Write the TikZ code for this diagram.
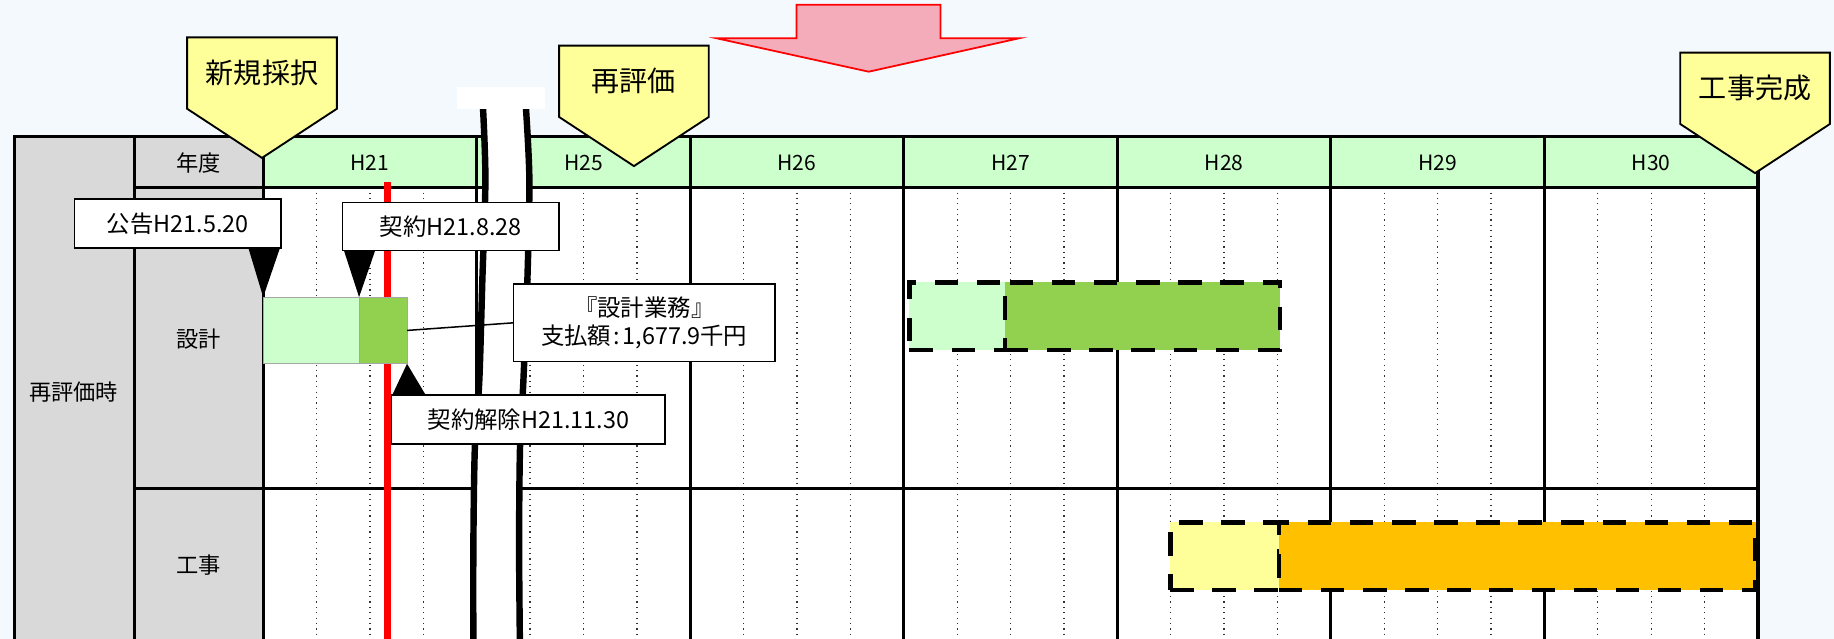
\documentclass[tikz,border=0pt]{standalone}
\usepackage{fontspec}
\setmainfont{Noto Sans CJK JP}
\definecolor{bgc}{RGB}{244,249,254}
\definecolor{grayc}{RGB}{217,217,217}
\definecolor{hdr}{RGB}{204,255,204}
\definecolor{dkgreen}{RGB}{146,208,80}
\definecolor{ylw}{RGB}{255,255,153}
\definecolor{orng}{RGB}{255,192,0}
\definecolor{pinkf}{RGB}{245,172,186}
\tikzset{
  gridline/.style={line width=2.6pt, black},
  dotline/.style={line width=1.1pt, black!80, dash pattern=on 1pt off 3.6pt},
  lbl/.style={font=\fontsize{19}{23}\selectfont, inner sep=0pt},
  hlbl/.style={font=\fontsize{18}{22}\selectfont, inner sep=0pt},
  dashbar/.style={draw=black, line width=4pt, dash pattern=on 20pt off 16pt, anchor=north west, inner sep=0pt, outer sep=0pt},
  gbar/.style={draw=gray!70, line width=0.8pt, anchor=north west, inner sep=0pt, outer sep=0pt},
  cbox/.style={draw=black, fill=white, line width=1.3pt, inner sep=0pt, outer sep=0pt, font=\fontsize{20}{24}\selectfont},
  ycall/.style={draw=black, fill=ylw, line width=1.6pt},
  ycalltext/.style={font=\fontsize{24}{28}\selectfont, inner sep=0pt},
  breakline/.style={line width=5.5pt, black},
  redline/.style={line width=6pt, red},
}
\newcommand\yellowcallout[4]{%
  \draw[ycall] (#2-64,#3) -- (#2+64,#3) -- (#2+64,#3+61) -- (#2,#3+103) -- (#2-64,#3+61) -- cycle;
  \node[ycalltext] (#1) at (#2,#3+30.5) {#4};
}
\begin{document}
\begin{tikzpicture}[x=1pt,y=-1pt]
\useasboundingbox (0,0) rectangle (1568,546);
\clip (0,0) rectangle (1568,546);
\fill[bgc] (0,0) rectangle (1568,546);

% table fills
\fill[grayc] (12,117) rectangle (225,560);
\fill[hdr] (225,117) rectangle (1503,160);
\fill[white] (225,160) rectangle (1503,560);

% dotted quarter lines
\foreach \i in {0,...,6}
  \foreach \k in {1,2,3}
    \draw[dotline] ({225+182.57*\i+45.64*\k},160) -- ++(0,400);

% grid
\draw[gridline] (12,117) rectangle (1503,560);
\draw[gridline] (114.6,117) -- (114.6,560);
\foreach \i in {0,...,6}
  \draw[gridline] ({225+182.57*\i},117) -- ++(0,443);
\draw[gridline] (114.6,160) -- (1503,160);
\draw[gridline] (114.6,418) -- (1503,418);

% labels
\node[lbl] (nendo) at (170,139) {年度};
\node[lbl] (sekkei) at (170,290) {設計};
\node[lbl] (koji) at (170,483) {工事};
\node[lbl] (saihyokaji) at (63,335) {再評価時};
\node[hlbl] (h21) at (316.3,139) {H21};
\node[hlbl] (h25) at (498.9,139) {H25};
\node[hlbl] (h26) at (681.4,139) {H26};
\node[hlbl] (h27) at (864,139) {H27};
\node[hlbl] (h28) at (1046.6,139) {H28};
\node[hlbl] (h29) at (1229.1,139) {H29};
\node[hlbl] (h30) at (1411.7,139) {H30};

% planned bars (dashed)
\node[dashbar, fill=hdr, minimum width=81.8, minimum height=57.9] (pl1) at (777.5,241.4) {};
\node[dashbar, fill=dkgreen, minimum width=235.1, minimum height=57.9] (pl2) at (859.3,241.4) {};
\node[dashbar, fill=ylw, minimum width=92.9, minimum height=57.8] (pk1) at (1000.5,446.6) {};
\node[dashbar, fill=orng, minimum width=407.5, minimum height=57.8] (pk2) at (1093.4,446.6) {};

% red line
\draw[redline] (331.5,156) -- (331.5,560);

% break
\fill[white] plot[smooth] coordinates {(413,93) (415,154) (412.4,239) (409.8,325) (406,382) (404.7,467) (404.7,560)}
  -- plot[smooth] coordinates {(444.6,560) (443.8,467) (444.6,382) (447.5,325) (450.9,239) (452.6,154) (449.7,93)} -- cycle;
\draw[breakline] plot[smooth] coordinates {(413,93) (415,154) (412.4,239) (409.8,325) (406,382) (404.7,467) (404.7,560)};
\draw[breakline] plot[smooth] coordinates {(449.7,93) (452.6,154) (450.9,239) (447.5,325) (444.6,382) (443.8,467) (444.6,560)};
\fill[white] (390.5,74) rectangle (466,93);

% H21 design bars
\node[gbar, fill=hdr, minimum width=82, minimum height=57] (dl) at (225,254) {};
\node[gbar, fill=dkgreen, minimum width=41, minimum height=57] (dd) at (307,254) {};

% callout boxes
\node[cbox, minimum width=176.7, minimum height=42] (koku) at (152,191) {公告H21.5.20};
\node[cbox, minimum width=185.2, minimum height=41] (keiyaku) at (385.4,193.5) {契約H21.8.28};
\node[cbox, minimum width=233.7, minimum height=42] (kaijo) at (451.75,358.65) {契約解除H21.11.30};
\node[cbox, minimum width=223.6, minimum height=66, align=center] (pay) at (550.8,276) {『設計業務』\\支払額\kern2pt:\kern2pt1,677.9千円};

\draw[line width=1.3pt] (dd.east) -- (pay.west);

\fill ([xshift=-28pt]koku.south east) -- ([xshift=-1pt]koku.south east) -- (dl.north west) -- cycle;
\fill ([xshift=1.2pt]keiyaku.south west) -- ([xshift=28pt]keiyaku.south west) -- (dd.north west) -- cycle;
\fill ([xshift=0.5pt]kaijo.north west) -- ([xshift=29pt]kaijo.north west) -- (dd.south east) -- cycle;

% yellow callouts
\yellowcallout{shinki}{224}{32}{新規採択}
\yellowcallout{saihyoka}{542}{39}{再評価}
\yellowcallout{kansei}{1500.5}{45}{工事完成}

% red block arrow
\draw[red, line width=1.5pt, fill=pinkf, line join=miter] (681,4) -- (804,4) -- (804,32.8) -- (871,32.8) -- (742.7,61.3) -- (613,32.8) -- (681,32.8) -- cycle;
\end{tikzpicture}
\end{document}
